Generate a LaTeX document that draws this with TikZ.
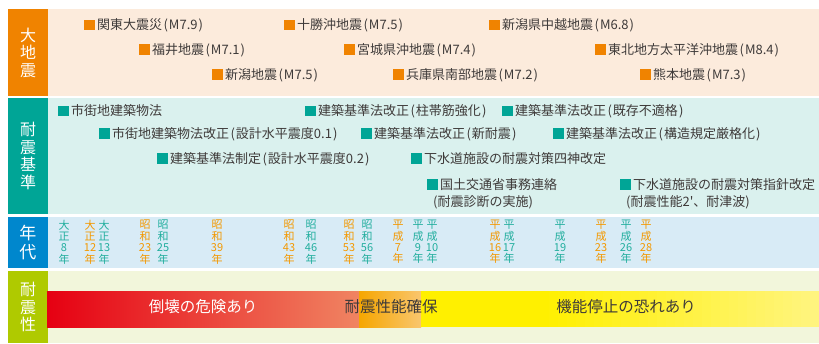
\documentclass[tikz,border=0pt]{standalone}
\usepackage{fontspec}
\setmainfont{Noto Sans CJK JP}[Ligatures=TeXOff]
\definecolor{eqor}{HTML}{F08300}
\definecolor{eqbg}{HTML}{FCEBDC}
\definecolor{stdtl}{HTML}{00A596}
\definecolor{stdbg}{HTML}{DAF1EE}
\definecolor{yrbl}{HTML}{0087CD}
\definecolor{yrbg}{HTML}{D8EBF6}
\definecolor{pfgr}{HTML}{AFCA00}
\definecolor{pfbg}{HTML}{F2F6DB}
\definecolor{txt}{HTML}{3E3A39}
\definecolor{yrtl}{HTML}{22AE9E}
\definecolor{yror}{HTML}{F39800}
\definecolor{barRa}{HTML}{E60012}
\definecolor{barRb}{HTML}{F08462}
\definecolor{barOa}{HTML}{F6A600}
\definecolor{barOb}{HTML}{F9C66E}
\definecolor{barYa}{HTML}{FFF000}
\definecolor{barYb}{HTML}{FFF47E}
\newcommand\myL{\hspace{0.12em}(\hspace{0.08em}}
\newcommand\myR{\hspace{0.08em})}
\newcommand\eqsq{\textcolor{eqor}{\rule[-0.5pt]{10.8pt}{10.8pt}}\hspace{2pt}}
\newcommand\stsq{\textcolor{stdtl}{\rule[-0.5pt]{10.8pt}{10.8pt}}\hspace{2pt}}
\tikzset{
  base/.style={inner sep=0pt, text height=0.88em, text depth=0.12em},
  item/.style={base, anchor=west, text=txt, font=\fontsize{13}{15}\selectfont},
  year/.style={inner sep=0pt, align=center, font=\fontsize{11}{11.4}\selectfont},
  yt/.style={year, text=yrtl},
  yo/.style={year, text=yror},
  lab/.style={inner sep=0pt, align=center, text=white, minimum width=40pt, font=\fontsize{16}{17.5}\selectfont},
  bartext/.style={base, font=\fontsize{15.5}{17}\selectfont},
}
\begin{document}
\begin{tikzpicture}[x=1pt, y=-1pt]
\useasboundingbox (0,0) rectangle (819,343);
% backgrounds
\fill[eqbg] (8,9) rectangle (819,96);
\fill[stdbg] (8,98) rectangle (819,214);
\fill[yrbg] (8,217) rectangle (819,268);
\fill[pfbg] (8,271) rectangle (819,343);
% labels
\node[lab, fill=eqor, minimum height=87pt] (L1) at (28,52.5) {大\\地\\震};
\node[lab, fill=stdtl, minimum height=116pt] (L2) at (28,156) {耐\\震\\基\\準};
\node[lab, fill=yrbl, minimum height=51pt, font=\fontsize{17}{19}\selectfont] (L3) at (28,242.5) {年\\代};
\node[lab, fill=pfgr, minimum height=72pt] (L4) at (28,307) {耐\\震\\性};
% earthquakes
\node[item] (e1) at (84,26) {\eqsq 関東大震災\myL M7.9\myR};
\node[item] (e2) at (284,26) {\eqsq 十勝沖地震\myL M7.5\myR};
\node[item] (e3) at (489,26) {\eqsq 新潟県中越地震\myL M6.8\myR};
\node[item] (e4) at (139,50.5) {\eqsq 福井地震\myL M7.1\myR};
\node[item] (e5) at (344,50.5) {\eqsq 宮城県沖地震\myL M7.4\myR};
\node[item] (e6) at (595,50.5) {\eqsq 東北地方太平洋沖地震\myL M8.4\myR};
\node[item] (e7) at (212,75.5) {\eqsq 新潟地震\myL M7.5\myR};
\node[item] (e8) at (393,75.5) {\eqsq 兵庫県南部地震\myL M7.2\myR};
\node[item] (e9) at (640,75.5) {\eqsq 熊本地震\myL M7.3\myR};
% standards
\node[item] (s1) at (58,112) {\stsq 市街地建築物法};
\node[item] (s2) at (305,112) {\stsq 建築基準法改正\myL 柱帯筋強化\myR};
\node[item] (s3) at (502,112) {\stsq 建築基準法改正\myL 既存不適格\myR};
\node[item] (s4) at (99,134.5) {\stsq 市街地建築物法改正\myL 設計水平震度0.1\myR};
\node[item] (s5) at (361,134.5) {\stsq 建築基準法改正\myL 新耐震\myR};
\node[item] (s6) at (553,134.5) {\stsq 建築基準法改正\myL 構造規定厳格化\myR};
\node[item] (s7) at (157,159.5) {\stsq 建築基準法制定\myL 設計水平震度0.2\myR};
\node[item] (s8) at (411,159.5) {\stsq 下水道施設の耐震対策四神改定};
\node[item] (s9) at (427,185.5) {\stsq 国土交通省事務連絡};
\node[item] (s9b) at (433,203) {(耐震診断の実施)};
\node[item] (s10) at (620,185.5) {\stsq 下水道施設の耐震対策指針改定};
\node[item] (s10b) at (626,203) {(耐震性能2'、耐津波)};
% years
\node[yt] (y1) at (64,242) {大\\正\\8\\年};
\node[yo] (y2) at (90,242) {大\\正\\12\\年};
\node[yt] (y3) at (104,242) {大\\正\\13\\年};
\node[yo] (y4) at (145,242) {昭\\和\\23\\年};
\node[yt] (y5) at (163,242) {昭\\和\\25\\年};
\node[yo] (y6) at (217,242) {昭\\和\\39\\年};
\node[yo] (y7) at (289,242) {昭\\和\\43\\年};
\node[yt] (y8) at (311,242) {昭\\和\\46\\年};
\node[yo] (y9) at (349,242) {昭\\和\\53\\年};
\node[yt] (y10) at (367,242) {昭\\和\\56\\年};
\node[yo] (y11) at (398,242) {平\\成\\7\\年};
\node[yt] (y12) at (418,242) {平\\成\\9\\年};
\node[yt] (y13) at (432,242) {平\\成\\10\\年};
\node[yo] (y14) at (495,242) {平\\成\\16\\年};
\node[yt] (y15) at (509,242) {平\\成\\17\\年};
\node[yt] (y16) at (560,242) {平\\成\\19\\年};
\node[yo] (y17) at (601,242) {平\\成\\23\\年};
\node[yt] (y18) at (626,242) {平\\成\\26\\年};
\node[yo] (y19) at (646,242) {平\\成\\28\\年};
% performance bar
\shade[left color=barRa, right color=barRb] (47,291) rectangle (359,327);
\shade[left color=barOa, right color=barOb] (359,291) rectangle (421,327);
\fill[barYa] (421,291) rectangle (541,327);
\foreach \i in {0,...,30}{
  \pgfmathsetmacro\xa{540+\i*9}
  \pgfmathsetmacro\xb{\xa+9.6}
  \pgfmathsetmacro\pc{100*\i/30}
  \fill[barYb!\pc!barYa] (\xa,291) rectangle (\xb,327);
}
\node[bartext, text=white] (b1) at (203,309) {倒壊の危険あり};
\node[bartext, text=txt] (b2) at (391,309) {耐震性能確保};
\node[bartext, text=txt] (b3) at (626,309) {機能停止の恐れあり};
\end{tikzpicture}
\end{document}
